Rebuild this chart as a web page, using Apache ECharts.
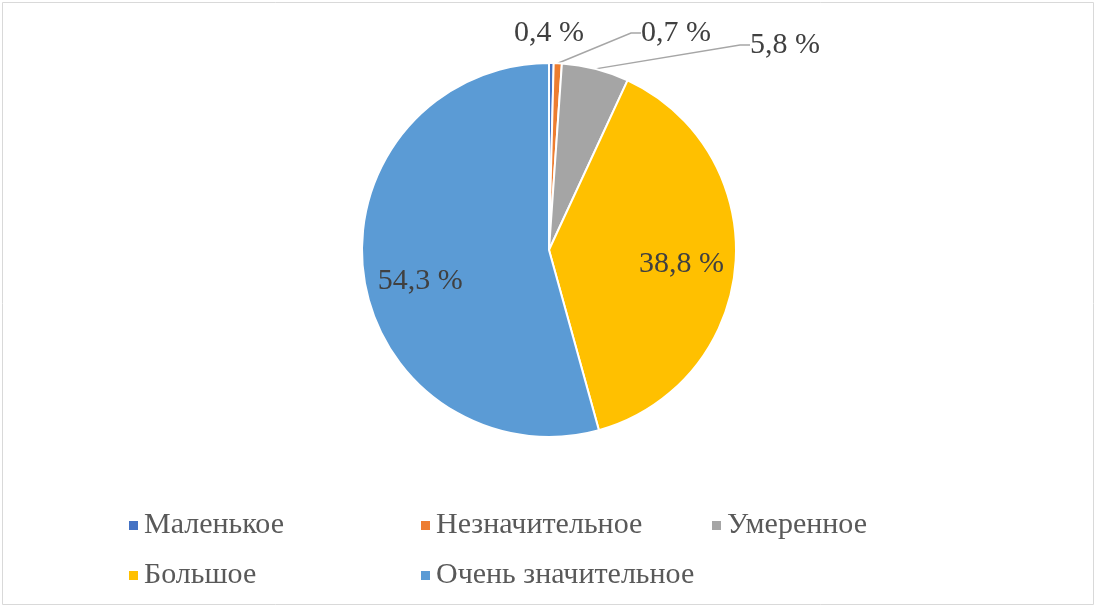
<!DOCTYPE html>
<html><head><meta charset="utf-8">
<script src="https://cdn.jsdelivr.net/npm/echarts@6/dist/echarts.min.js"></script>
<style>html,body{margin:0;padding:0;background:#fff}#c{width:1099px;height:610px}</style>
</head><body><div id="c"></div>
<script>
const categories = ['Маленькое','Незначительное','Умеренное','Большое','Очень значительное'];
const values = [0.4, 0.7, 5.8, 38.8, 54.3];
const colors = ['#4472C4','#ED7D31','#A5A5A5','#FFC000','#5B9BD5'];
const insideIdx = [3,4];

const total = values.reduce((a,b)=>a+b,0);
const CX = 549, CY = 250, R = 187;
const fontFam = '"Liberation Serif","Times New Roman",serif';
// outside label placement relative to pie centre/top (dx from centre, dy above top edge)
const outsidePlace = {
  0:{dx:0,   up:30, align:'center'},
  1:{dx:92,  up:30, align:'left'},
  2:{dx:201, up:18, align:'left'}
};

const data = categories.map((n,i)=>({
  name:n, value:values[i],
  itemStyle:{color:colors[i]},
  label: insideIdx.includes(i) ? {position:'inside'} : {position:'outside'},
  labelLine: {show: !insideIdx.includes(i) && i!==0}
}));

function midAngle(i){
  let s=0; for(let k=0;k<i;k++) s+=values[k];
  return (s+values[i]/2)/total*2*Math.PI;
}

const chart = echarts.init(document.getElementById('c'));
chart.setOption({
  animation:false,
  graphic:[{type:'rect',shape:{x:2.5,y:2.5,width:1091,height:602},style:{fill:'none',stroke:'#d9d9d9',lineWidth:1}}],
  legend:[
    {data:[categories[0],categories[3]]},
    {data:[categories[1],categories[4]]},
    {data:[categories[2]]}
  ].map((l,k)=>Object.assign(l,{
    orient:'vertical', left:[122,414,705][k], top:505,
    itemWidth:11,itemHeight:11,itemGap:19,icon:'rect',
    textStyle:{fontFamily:fontFam,fontSize:30,color:'#595959',lineHeight:31}
  })),
  series:[{
    type:'pie',
    center:[CX,CY], radius:R,
    startAngle:90, clockwise:true,
    avoidLabelOverlap:false,
    itemStyle:{borderColor:'#fff',borderWidth:2},
    label:{formatter:p=>String(p.value).replace('.',',')+' %',fontFamily:fontFam,fontSize:30,color:'#404040'},
    labelLine:{length:10,length2:10,lineStyle:{color:'#A6A6A6',width:1.5}},
    labelLayout:function(p){
      const i = p.dataIndex;
      if(insideIdx.includes(i)){
        const a = midAngle(i), extra = R*0.7 - R*0.5;
        return {dx: extra*Math.sin(a) + (i===4?4:-1), dy: -extra*Math.cos(a) + (i===4?13:3)};
      }
      const o = outsidePlace[i];
      return {x: CX + o.dx, y: CY - R - o.up, align:o.align, verticalAlign:'middle', moveOverlap:'none'};
    },
    data:data
  }]
});
</script></body></html>
